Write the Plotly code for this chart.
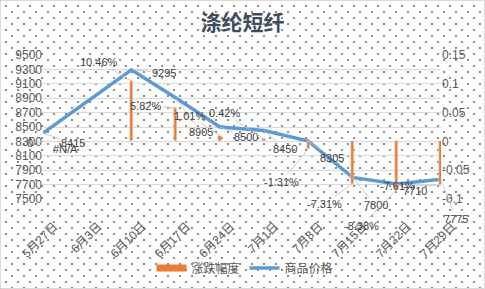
import plotly.graph_objects as go

# ---- data ----
categories = ["5月27日", "6月3日", "6月10日", "6月17日", "6月24日",
              "7月1日", "7月8日", "7月15日", "7月22日", "7月29日"]
price = [8415, None, 9295, 8905, 8500, 8450, 8305, 7800, 7710, 7775]
change = [0, None, 0.1046, 0.0582, 0.0101, 0.0042, -0.0131, -0.0731, -0.0838, -0.0761]
change_labels = ["0", "#N/A", "10.46%", "5.82%", "1.01%", "0.42%",
                 "-1.31%", "-7.31%", "-8.38%", "-7.61%"]
left_ticks = [7500, 7700, 7900, 8100, 8300, 8500, 8700, 8900, 9100, 9300, 9500]
right_ticks = [-0.1, -0.05, 0, 0.05, 0.1, 0.15]
right_ticktext = ["-0.1", "-0.05", "0", "0.05", "0.1", "0.15"]

# label offsets (pixels) for Excel-like data labels with leader lines
price_offsets = [(30, 10), None, (33, 3), (25, 34), (26, 10), (21, 18),
                 (24, 17), (23, 28), (18, 7), (15, 40)]
change_offsets = [(-13, 2), (-22, 8), (-32, -19), (-30, -2), (-30, -20),
                  (-40, -26), (-27, 33), (-28, 20), (-35, 36), (-44, 1)]

BAR = "#ed7d31"
LINE = "#5b9bd5"
TXT = "#404040"
FONT = "Liberation Sans, Noto Sans CJK SC"

fig = go.Figure()
fig.add_trace(go.Bar(x=categories, y=change, name="涨跌幅度", marker_color=BAR,
                     width=0.075, yaxis="y2", showlegend=False))
# legend proxy for the bar series (wide rectangle swatch like Excel)
fig.add_trace(go.Scatter(x=[None], y=[None], name="涨跌幅度", mode="lines",
                         line=dict(color=BAR, width=7), yaxis="y2"))
fig.add_trace(go.Scatter(x=categories, y=price, name="商品价格", mode="lines",
                         line=dict(color=LINE, width=3.5), connectgaps=True))

annotations = []
for i, (c, v) in enumerate(zip(categories, price)):
    if v is None or price_offsets[i] is None:
        continue
    ax, ay = price_offsets[i]
    annotations.append(dict(x=c, y=v, xref="x", yref="y", text=str(v),
                            showarrow=True, arrowhead=0, arrowwidth=0.8,
                            arrowcolor="#bfbfbf", ax=ax, ay=ay, standoff=0,
                            font=dict(size=11, color=TXT, family=FONT)))
for i, (c, v) in enumerate(zip(categories, change)):
    ax, ay = change_offsets[i]
    annotations.append(dict(x=c, y=(v if v is not None else 0), xref="x", yref="y2",
                            text=change_labels[i],
                            showarrow=True, arrowhead=0, arrowwidth=0.8,
                            arrowcolor="#bfbfbf", ax=ax, ay=ay, standoff=0,
                            font=dict(size=11, color=TXT, family=FONT)))

W, H = 485, 289
L, R, T, B = 43, 44, 55, 90
pw, ph = W - L - R, H - T - B

fig.update_layout(
    width=W, height=H,
    margin=dict(l=L, r=R, t=T, b=B, autoexpand=False),
    paper_bgcolor="rgba(0,0,0,0)",
    plot_bgcolor="rgba(0,0,0,0)",
    font=dict(family=FONT, size=12, color="#595959"),
    title=dict(text="<b>涤纶短纤</b>", x=0.5, xanchor="center", y=1 - 23 / H,
               yanchor="middle",
               font=dict(family="Noto Sans CJK SC", size=21, color="#3e4c5e")),
    xaxis=dict(type="category", range=[0, len(categories) - 1], tickangle=-45,
               showgrid=False, zeroline=False, showline=False, ticks="",
               ticklabelstandoff=17, ticklabelshift=11, automargin=False,
               tickfont=dict(size=12, color="#595959")),
    yaxis=dict(range=[7500, 9500], tickvals=left_ticks, showgrid=True,
               gridcolor="#d9d9d9", gridwidth=1, zeroline=False, showline=False,
               automargin=False, tickfont=dict(size=12, color="#595959")),
    yaxis2=dict(range=[-0.1, 0.15], overlaying="y", side="right",
                tickvals=right_ticks, ticktext=right_ticktext, showgrid=False,
                zeroline=False, showline=False, automargin=False,
                tickfont=dict(size=12, color="#595959")),
    legend=dict(orientation="h", x=0.5 + 3 / pw, xanchor="center",
                yref="container", y=1 - 268 / H,
                yanchor="middle", font=dict(size=12, color="#595959"),
                bgcolor="rgba(0,0,0,0)", traceorder="normal", itemwidth=30),
    bargap=0,
    annotations=annotations,
    shapes=[dict(type="rect", xref="paper", yref="paper",
                 x0=-L / pw + 0.5 / pw, x1=1 + R / pw - 0.5 / pw,
                 y0=-B / ph + 0.5 / ph, y1=1 + T / ph - 0.5 / ph,
                 line=dict(color="#d9d9d9", width=1), layer="below")],
)

post = """
document.body.style.margin = '0';
document.body.style.background =
  'radial-gradient(circle, #8c8c8c 0.75px, rgba(255,255,255,0) 1.1px) 0 0 / 12px 12px,' +
  'radial-gradient(circle, #8c8c8c 0.75px, rgba(255,255,255,0) 1.1px) 6px 6px / 12px 12px,' +
  '#ffffff';
"""

fig.write_html("out.html", post_script=post)
